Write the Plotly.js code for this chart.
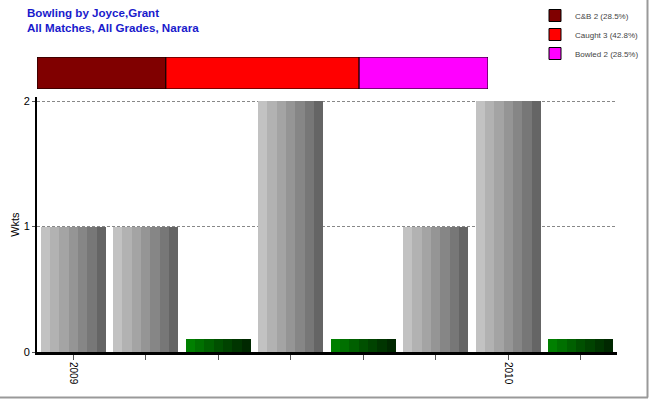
<!DOCTYPE html>
<html>
<head>
<meta charset="utf-8">
<script src="https://cdn.plot.ly/plotly-3.0.1.min.js"></script>
<style>html,body{margin:0;padding:0;background:#fff;}#chart{width:650px;height:400px;}</style>
</head>
<body>
<div id="chart"></div>
<script>
// ---- data ----
const matchLabels = ['2009', '', '', '', '', '', '2010', ''];
const wickets = [1, 1, 0, 2, 0, 1, 2, 0];
const zeroMarker = 0.1; // small green stub drawn for matches with no wickets
const dismissalTypes = ['C&B', 'Caught', 'Bowled'];
const dismissalCounts = [2, 3, 2];
const dismissalPct = ['28.5%', '42.8%', '28.5%'];
const dismissalColors = ['#800000', '#ff0000', '#ff00ff'];

// ---- styles ----
const greyStripes = ['#c2c2c2', '#b2b2b2', '#a4a4a4', '#959595', '#868686', '#777777', '#656565'];
const greenStripes = ['#008000', '#007000', '#006000', '#005000', '#004300', '#003500', '#002800'];
const barWidth = 0.9;

const xPos = matchLabels.map((_, i) => i);
const greyVals = wickets.map(w => w > 0 ? w : null);
const greenVals = wickets.map(w => w === 0 ? zeroMarker : null);

const traces = [];
const nS = greyStripes.length;
const sw = barWidth / nS;
for (let s = 0; s < nS; s++) {
  traces.push({
    type: 'bar', x: xPos, y: greyVals, width: sw, offset: -barWidth / 2 + s * sw,
    marker: {color: greyStripes[s], line: {width: 0}}, showlegend: false, hoverinfo: 'skip',
    xaxis: 'x', yaxis: 'y'
  });
  traces.push({
    type: 'bar', x: xPos, y: greenVals, width: sw, offset: -barWidth / 2 + s * sw,
    marker: {color: greenStripes[s], line: {width: 0}}, showlegend: false, hoverinfo: 'skip',
    xaxis: 'x', yaxis: 'y'
  });
}

let cum = 0;
dismissalTypes.forEach((t, i) => {
  traces.push({
    type: 'bar', orientation: 'h', y: [0], x: [dismissalCounts[i]], base: [cum],
    name: t + ' ' + dismissalCounts[i] + ' (' + dismissalPct[i] + ')',
    marker: {color: dismissalColors[i], line: {color: '#000', width: 1}},
    xaxis: 'x2', yaxis: 'y2', width: 1, offset: -0.5, hoverinfo: 'skip'
  });
  cum += dismissalCounts[i];
});
const total = cum;

const H = 400, mTop = 50, mBot = 48, mL = 37, mR = 33;
const ph = H - mTop - mBot, pw = 650 - mL - mR;
const yMax = 2.03;
const yTopMain = 101 - (yMax - 2) * 125, barTop = 57, barBot = 89, plotBottom = H - mBot;

const layout = {
  width: 650, height: 400,
  margin: {l: mL, r: mR, t: mTop, b: mBot, autoexpand: false},
  paper_bgcolor: '#fff', plot_bgcolor: '#fff',
  font: {family: 'Liberation Sans, Arial, sans-serif', size: 11, color: '#000'},
  barmode: 'overlay',
  title: {
    text: '<b>Bowling by Joyce,Grant<br>All Matches, All Grades, Narara</b>',
    x: 27 / 650, xref: 'container', xanchor: 'left',
    y: 1 - 17 / 400, yref: 'container', yanchor: 'top',
    font: {family: 'Liberation Sans, Arial, sans-serif', size: 11.6, color: '#1a1acc'}
  },
  xaxis: {
    range: [-0.5, matchLabels.length - 0.5],
    tickvals: xPos, ticktext: matchLabels, tickangle: 90,
    ticks: 'outside', ticklen: 5, tickcolor: '#555', tickfont: {size: 10},
    showline: true, linecolor: '#000', linewidth: 3,
    showgrid: false, zeroline: false, fixedrange: true
  },
  yaxis: {
    domain: [0, (plotBottom - yTopMain) / ph],
    range: [0, yMax], tickvals: [0, 1, 2], ticks: 'outside', ticklen: 3, tickcolor: '#555',
    showline: true, linecolor: '#000', linewidth: 2,
    showgrid: true, gridcolor: '#888', griddash: '3px,2px', gridwidth: 1,
    zeroline: false,
    title: {text: 'Wkts', standoff: 2, font: {size: 11}}
  },
  xaxis2: {
    domain: [0, (488 - mL) / pw], range: [0, total], anchor: 'y2',
    visible: false, fixedrange: true
  },
  yaxis2: {
    domain: [(plotBottom - barBot) / ph, (plotBottom - barTop) / ph], anchor: 'x2',
    visible: false, range: [-0.5, 0.5]
  },
  showlegend: true,
  legend: {
    x: (535 - mL) / pw, y: (plotBottom - 1) / ph,
    xanchor: 'left', yanchor: 'top',
    font: {size: 8, color: '#444'}, bgcolor: 'rgba(0,0,0,0)',
    itemwidth: 30, tracegroupgap: 0, traceorder: 'normal'
  },
  shapes: [
    {type: 'line', xref: 'paper', yref: 'paper', x0: (647.5 - mL) / pw, x1: (647.5 - mL) / pw, y0: -(397.5 - plotBottom) / ph, y1: plotBottom / ph, line: {color: '#999', width: 2}},
    {type: 'line', xref: 'paper', yref: 'paper', x0: -mL / pw, x1: (648 - mL) / pw, y0: -(397.5 - plotBottom) / ph, y1: -(397.5 - plotBottom) / ph, line: {color: '#999', width: 2}}
  ],
  bargap: 0
};

Plotly.newPlot('chart', traces, layout, {displayModeBar: false, staticPlot: true});
</script>
</body>
</html>
